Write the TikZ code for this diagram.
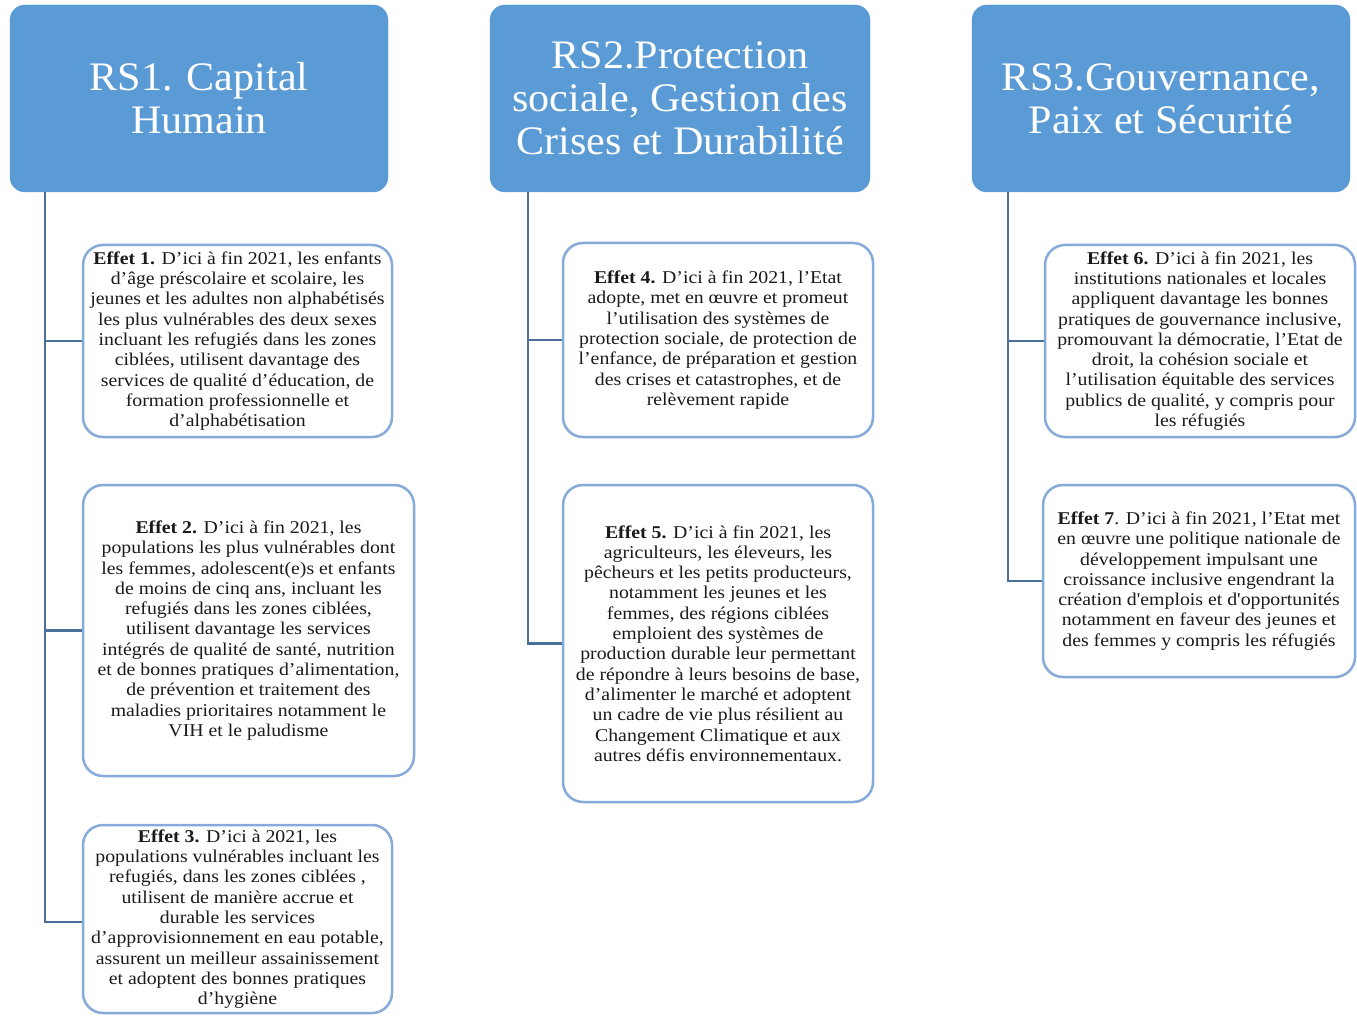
\documentclass[tikz,border=0pt]{standalone}
\usepackage{fontspec}
\setmainfont{Liberation Serif}
\newfontfamily\efffont[FakeStretch=1.1]{Liberation Serif}
\newfontfamily\hdfont[FakeStretch=1.04]{Liberation Serif}
\begin{document}
\begin{tikzpicture}[x=1pt,y=-1pt,
  head/.style={fill=hdblue, draw=hdblue, rounded corners=15pt, text=white,
    align=center, font=\hdfont\fontsize{40.5}{43}\selectfont, inner sep=0pt},
  effbox/.style={fill=white, draw=bxblue, line width=2.5pt, rounded corners=20pt,
    align=center, font=\efffont\fontsize{18}{20.3}\selectfont, text=txtc, inner sep=0pt},
  conn/.style={draw=lnblue, line width=2.5pt}]
\definecolor{hdblue}{HTML}{5B9BD5}
\definecolor{bxblue}{HTML}{86AADA}
\definecolor{lnblue}{HTML}{4A6F98}
\definecolor{txtc}{HTML}{1A1A1A}
\useasboundingbox (0,0) rectangle (1357,1016);
\fill[white] (0,0) rectangle (1357,1016);

% headers
\node[head, minimum width=378pt, minimum height=187pt] (rs1) at (199,98.5) {RS1. Capital\\Humain};
\node[head, minimum width=380pt, minimum height=187pt] (rs2) at (680,98.5) {RS2.Protection\\sociale, Gestion des\\Crises et Durabilité};
\node[head, minimum width=378pt, minimum height=187pt] (rs3) at (1161,98.5) {RS3.Gouvernance,\\Paix et Sécurité};

% trunk start points
\coordinate (t1) at (45,192);
\coordinate (t2) at (528,192);
\coordinate (t3) at (1008,192);

% effect box centres
\coordinate (p1) at (237.5,341);
\coordinate (p2) at (248.5,630.5);
\coordinate (p3) at (237.5,919);
\coordinate (p4) at (718,340);
\coordinate (p5) at (718,643.5);
\coordinate (p6) at (1200,341);
\coordinate (p7) at (1199,581);

% invisible outlines for connector ends
\path (p1) node[minimum width=309pt, minimum height=192pt, inner sep=0pt] (e1) {};
\path (p2) node[minimum width=331pt, minimum height=291pt, inner sep=0pt] (e2) {};
\path (p3) node[minimum width=309pt, minimum height=188pt, inner sep=0pt] (e3) {};
\path (p4) node[minimum width=310pt, minimum height=194pt, inner sep=0pt] (e4) {};
\path (p5) node[minimum width=310pt, minimum height=317pt, inner sep=0pt] (e5) {};
\path (p6) node[minimum width=310pt, minimum height=192pt, inner sep=0pt] (e6) {};
\path (p7) node[minimum width=312pt, minimum height=192pt, inner sep=0pt] (e7) {};

\draw[conn] (t1) |- (e1.west);
\draw[conn] (t1) |- (e2.west);
\draw[conn] (t1) |- ([yshift=-3pt]e3.west);
\draw[conn] (t2) |- (e4.west);
\draw[conn] (t2) |- (e5.west);
\draw[conn] (t3) |- (e6.west);
\draw[conn] (t3) |- (e7.west);

\node[effbox, minimum width=309pt, minimum height=192pt] (b1) at (p1)
{\textbf{Effet 1.} D’ici à fin 2021, les enfants\\
d’âge préscolaire et scolaire, les\\
jeunes et les adultes non alphabétisés\\
les plus vulnérables des deux sexes\\
incluant les refugiés dans les zones\\
ciblées, utilisent davantage des\\
services de qualité d’éducation, de\\
formation professionnelle et\\
d’alphabétisation};

\node[effbox, minimum width=331pt, minimum height=291pt] (b2) at (p2)
{\textbf{Effet 2.} D’ici à fin 2021, les\\
populations les plus vulnérables dont\\
les femmes, adolescent(e)s et enfants\\
de moins de cinq ans, incluant les\\
refugiés dans les zones ciblées,\\
utilisent davantage les services\\
intégrés de qualité de santé, nutrition\\
et de bonnes pratiques d’alimentation,\\
de prévention et traitement des\\
maladies prioritaires notamment le\\
VIH et le paludisme};

\node[effbox, minimum width=309pt, minimum height=188pt] (b3) at (p3)
{\textbf{Effet 3.} D’ici à 2021, les\\
populations vulnérables incluant les\\
refugiés, dans les zones ciblées ,\\
utilisent de manière accrue et\\
durable les services\\
d’approvisionnement en eau potable,\\
assurent un meilleur assainissement\\
et adoptent des bonnes pratiques\\
d’hygiène};

\node[effbox, minimum width=310pt, minimum height=194pt] (b4) at (p4)
{\textbf{Effet 4.} D’ici à fin 2021, l’Etat\\
adopte, met en œuvre et promeut\\
l’utilisation des systèmes de\\
protection sociale, de protection de\\
l’enfance, de préparation et gestion\\
des crises et catastrophes, et de\\
relèvement rapide};

\node[effbox, minimum width=310pt, minimum height=317pt] (b5) at (p5)
{\textbf{Effet 5.} D’ici à fin 2021, les\\
agriculteurs, les éleveurs, les\\
pêcheurs et les petits producteurs,\\
notamment les jeunes et les\\
femmes, des régions ciblées\\
emploient des systèmes de\\
production durable leur permettant\\
de répondre à leurs besoins de base,\\
d’alimenter le marché et adoptent\\
un cadre de vie plus résilient au\\
Changement Climatique et aux\\
autres défis environnementaux.};

\node[effbox, minimum width=310pt, minimum height=192pt] (b6) at (p6)
{\textbf{Effet 6.} D’ici à fin 2021, les\\
institutions nationales et locales\\
appliquent davantage les bonnes\\
pratiques de gouvernance inclusive,\\
promouvant la démocratie, l’Etat de\\
droit, la cohésion sociale et\\
l’utilisation équitable des services\\
publics de qualité, y compris pour\\
les réfugiés};

\node[effbox, minimum width=312pt, minimum height=192pt] (b7) at (p7)
{\textbf{Effet 7}. D’ici à fin 2021, l’Etat met\\
en œuvre une politique nationale de\\
développement impulsant une\\
croissance inclusive engendrant la\\
création d'emplois et d'opportunités\\
notamment en faveur des jeunes et\\
des femmes y compris les réfugiés};
\end{tikzpicture}
\end{document}
